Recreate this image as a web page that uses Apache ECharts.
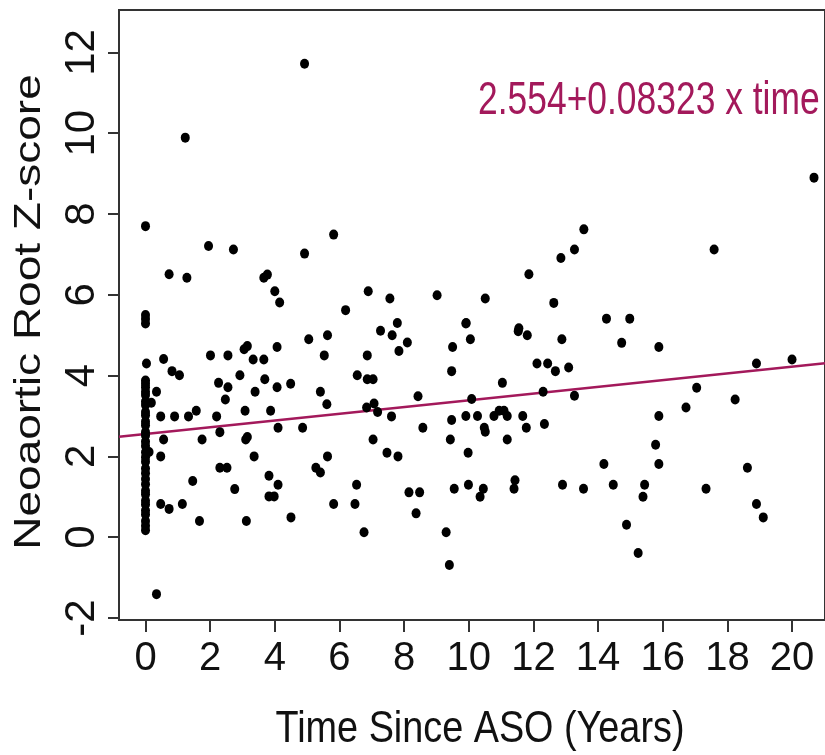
<!DOCTYPE html>
<html><head><meta charset="utf-8">
<script src="https://cdn.jsdelivr.net/npm/echarts@6/dist/echarts.min.js"></script>
<style>html,body{margin:0;padding:0;background:#fff}#c{width:825px;height:755px}</style>
</head><body><div id="c"></div>
<script>
// Patients measured at time 0 (ASO)
const zeroTimeScores = [0.17,0.28,0.4,0.56,0.66,0.81,0.9,1.06,1.15,1.31,1.44,1.58,1.7,1.87,1.98,2.1,2.26,2.37,2.52,2.6,2.77,2.86,3.02,3.1,3.27,3.36,3.52,3.6,3.71,3.8,3.88,5.29,5.4,5.5,7.7];
// Follow-up measurements: time (years) and z-score
const timeYears = [0.11,0.18,0.03,4.92,1.23,1.95,2.72,4.92,5.82,0.73,1.28,3.66,3.77,4.00,4.15,6.19,6.89,7.56,7.79,
20.68,13.56,13.27,12.85,17.59,11.86,9.02,10.51,12.63,9.92,14.26,14.98,11.55,
0.56,0.82,1.05,0.34,0.47,0.90,1.33,1.57,0.56,1.75,0.47,1.46,0.47,0.73,1.14,1.67,0.34,
2.01,2.55,3.05,3.15,3.33,3.66,4.07,2.92,3.69,2.26,2.55,2.47,3.39,4.07,4.49,2.20,3.08,3.87,2.30,3.15,3.10,4.10,4.86,3.36,2.30,2.52,2.76,3.82,4.10,3.82,3.98,3.12,4.50,
5.05,5.63,5.53,5.41,5.61,5.63,5.27,5.41,5.82,6.53,6.48,6.76,6.55,6.86,6.86,7.04,6.84,7.07,7.18,7.04,7.61,7.47,7.81,7.27,7.63,8.10,7.84,8.15,8.37,8.43,
9.91,10.05,9.50,9.47,8.58,10.09,9.47,9.91,10.27,9.43,9.98,10.48,10.51,10.78,10.94,11.04,11.09,11.19,11.19,11.67,11.78,11.53,11.81,12.88,12.11,12.44,12.68,13.09,12.30,13.27,12.34,8.48,9.55,9.99,10.45,10.35,11.43,11.40,12.90,13.55,9.30,9.40,
14.18,14.47,14.88,15.24,15.44,15.39,15.78,15.88,15.88,15.88,14.73,16.72,17.05,17.34,18.24,18.62,18.90,18.90,19.11,20.00];
const zScore = [2.11,3.33,4.30,11.72,9.89,7.21,7.12,7.02,7.49,6.51,6.42,6.42,6.50,6.09,5.81,5.62,6.09,5.91,5.30,
8.90,7.62,7.12,6.91,7.12,6.51,5.99,5.91,5.80,5.30,5.41,5.41,5.17,
4.41,4.11,4.01,3.60,2.99,2.99,2.99,3.13,2.42,2.42,2.00,1.39,0.82,0.70,0.82,0.40,-1.41,
4.50,4.50,4.65,4.73,4.40,4.40,4.71,4.01,3.91,3.82,3.71,3.41,3.60,3.71,3.80,2.99,3.13,3.13,2.60,2.48,2.42,2.71,2.71,2.00,1.72,1.72,1.19,1.52,1.30,1.01,1.01,0.40,0.49,
4.90,5.00,4.50,3.60,3.29,2.00,1.72,1.60,0.82,1.30,0.82,0.12,4.01,4.50,3.91,3.91,3.21,3.31,3.10,2.42,2.99,2.09,2.00,5.11,5.00,4.82,4.61,1.11,0.59,3.49,
5.29,4.90,4.71,4.11,2.71,3.42,2.90,3.00,3.00,2.42,2.09,2.71,2.61,3.00,3.13,3.82,3.13,3.00,2.42,3.00,2.71,5.10,5.00,4.90,4.30,4.30,4.11,4.20,3.60,3.50,2.80,1.11,1.20,1.30,1.20,1.00,1.41,1.20,1.30,1.20,0.12,-0.69,
1.81,1.30,0.31,-0.39,1.30,1.00,2.29,3.00,1.81,4.71,4.81,3.21,3.70,1.20,3.41,1.72,4.30,0.82,0.49,4.40];
const xTicks = [0,2,4,6,8,10,12,14,16,18,20];
const yTicks = [-2,0,2,4,6,8,10,12];
const intercept = 2.554;
const slope = 0.08323;
const fitLabel = '2.554+0.08323 x time';
const xTitle = 'Time Since ASO (Years)';
const yTitle = 'Neoaortic Root Z-score';

const X_MIN = -0.82, X_MAX = 21.02, Y_MIN = -2.05, Y_MAX = 13.05;
const points = zeroTimeScores.map(v => [0, v]).concat(timeYears.map((t, i) => [t, zScore[i]]));
const fitLine = [[X_MIN, intercept + slope * X_MIN], [X_MAX, intercept + slope * X_MAX]];
const fitColor = '#a3195b';
const font = "'Liberation Sans', Arial, sans-serif";

const chart = echarts.init(document.getElementById('c'), null, {renderer: 'canvas'});
chart.setOption({
  animation: false,
  grid: {left: 119, top: 10, right: -6, bottom: 135, show: true, borderColor: '#333', borderWidth: 2, backgroundColor: 'transparent'},
  xAxis: {
    type: 'value', min: X_MIN, max: X_MAX,
    axisLine: {show: false, onZero: false},
    splitLine: {show: false},
    axisTick: {show: true, customValues: xTicks, length: 12, inside: false, lineStyle: {color: '#333', width: 2}},
    axisLabel: {customValues: xTicks, fontFamily: font, fontSize: 40, color: '#111', margin: 19}
  },
  yAxis: {
    type: 'value', min: Y_MIN, max: Y_MAX,
    axisLine: {show: false, onZero: false},
    splitLine: {show: false},
    axisTick: {show: true, customValues: yTicks, length: 11, inside: false, lineStyle: {color: '#333', width: 2}},
    axisLabel: {customValues: yTicks, rotate: 90, fontFamily: font, fontSize: 42, color: '#111', margin: 16}
  },
  series: [
    {type: 'scatter', data: points, symbol: 'circle', symbolSize: [9, 10], itemStyle: {color: '#000', opacity: 1}, z: 3},
    {type: 'line', data: fitLine, showSymbol: false, symbol: 'none', lineStyle: {color: fitColor, width: 2.5}, z: 2, silent: true}
  ],
  graphic: [
    {type: 'text', left: 478, top: 78, scaleX: 0.77, style: {text: fitLabel, fontFamily: font, fontSize: 46, fill: fitColor}},
    {type: 'text', x: 480, y: 730, scaleX: 0.84, style: {text: xTitle, fontFamily: font, fontSize: 45, fill: '#111', align: 'center', verticalAlign: 'middle'}},
    {type: 'text', x: 30, y: 312, rotation: Math.PI / 2, scaleY: 0.8, style: {text: yTitle, fontFamily: font, fontSize: 46, fill: '#111', align: 'center', verticalAlign: 'middle'}}
  ]
});
</script></body></html>
